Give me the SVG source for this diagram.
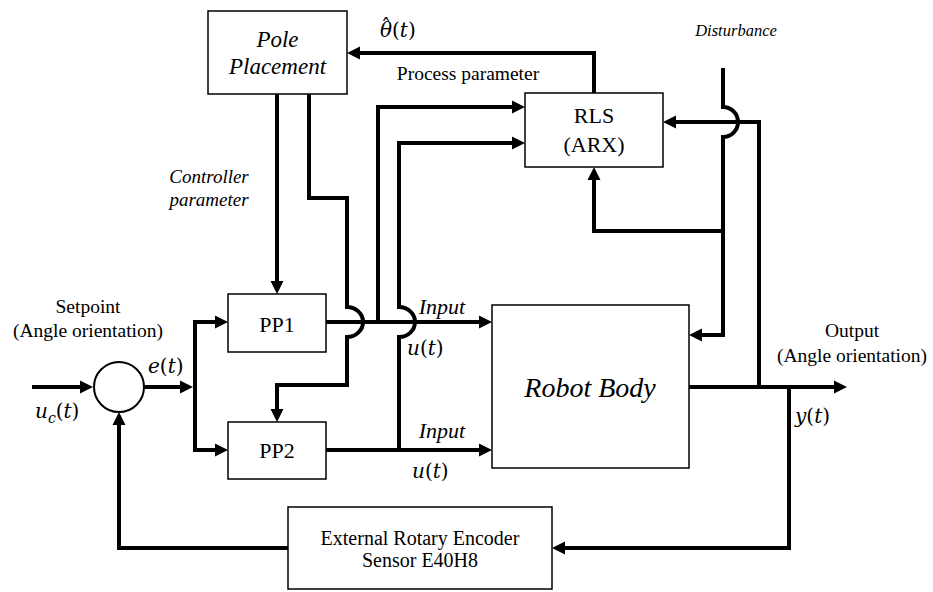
<svg xmlns="http://www.w3.org/2000/svg" width="933" height="592" viewBox="0 0 933 592">
<defs>
<style>
.box{fill:#fff;stroke:#000;stroke-width:1.5}
.w{fill:none;stroke:#000;stroke-width:4;marker-end:url(#ah)}
.t{font-family:"Liberation Serif","Times New Roman",serif;font-size:20px;fill:#000}
.i{font-style:italic}
.c{text-anchor:middle}
.m{font-family:"DejaVu Serif","Liberation Serif",serif;font-size:20px;fill:#000}
</style>
<marker id="ah" markerUnits="userSpaceOnUse" markerWidth="13" markerHeight="14" viewBox="0 0 13 14" refX="0" refY="7" orient="auto">
<path d="M0,0.5 L13,7 L0,13.5 z" fill="#000"/>
</marker>
</defs>
<rect width="933" height="592" fill="#fff"/>

<g id="connectors">
<path class="w" d="M32,387 H80"/>
<path class="w" d="M144,387 H180"/>
<path class="w" d="M195,387 V322 H215"/>
<path class="w" d="M195,387 V450 H215"/>
<path class="w" d="M277,94 V281"/>
<path class="w" d="M309,94 V198 H347 V307 A16,15 0 0 1 347,337 V385 H277 V409"/>
<path class="w" d="M378,322 V107 H512"/>
<path class="w" d="M399,450 V337 A16,15 0 0 0 399,307 V143 H512"/>
<path class="w" d="M326,322 H479"/>
<path class="w" d="M326,450 H479"/>
<path class="w" d="M594,93 V53 H360"/>
<path class="w" d="M723,68 V107 A15,15 0 0 1 723,137 V335 H702"/>
<path class="w" d="M723,231 H594 V180"/>
<path class="w" d="M689,387 H834"/>
<path class="w" d="M759,387 V122 H676"/>
<path class="w" d="M789,387 V548 H565"/>
<path class="w" d="M288,548 H119 V425"/>
</g>

<g id="pole-placement">
<rect class="box" x="208" y="11" width="139" height="83"/>
<text class="t i c" x="277.5" y="47" style="font-size:23px">Pole</text>
<text class="t i c" x="277.5" y="74" style="font-size:23px">Placement</text>
</g>

<g id="rls">
<rect class="box" x="525" y="93" width="138" height="74"/>
<text class="t c" x="594" y="123" style="font-size:22px">RLS</text>
<text class="t c" x="594" y="152" style="font-size:22px">(ARX)</text>
</g>

<g id="pp1">
<rect class="box" x="228" y="294" width="98" height="58"/>
<text class="t c" x="277" y="332" style="font-size:22px">PP1</text>
</g>

<g id="pp2">
<rect class="box" x="228" y="422" width="98" height="57"/>
<text class="t c" x="277" y="458" style="font-size:22px">PP2</text>
</g>

<g id="robot-body">
<rect class="box" x="492" y="305" width="197" height="163"/>
<text class="t i c" x="590" y="397" style="font-size:28px">Robot Body</text>
</g>

<g id="encoder">
<rect class="box" x="288" y="507" width="264" height="82"/>
<text class="t c" x="420" y="545">External Rotary Encoder</text>
<text class="t c" x="420" y="567">Sensor E40H8</text>
</g>

<g id="sum">
<circle cx="119" cy="387" r="25" fill="#fff" stroke="#000" stroke-width="2"/>
</g>

<g id="labels">
<text class="m" x="380" y="37"><tspan font-style="italic">θ</tspan><tspan dx="-11" dy="-3">ˆ</tspan><tspan dx="1" dy="3">(</tspan><tspan font-style="italic">t</tspan>)</text>
<text class="t c" x="468" y="80" style="font-size:19.5px">Process parameter</text>
<text class="t i c" x="736" y="36" style="font-size:16.5px">Disturbance</text>
<text class="t i c" x="209" y="183" style="font-size:19px">Controller</text>
<text class="t i c" x="209" y="206" style="font-size:19px">parameter</text>
<text class="t c" x="88" y="313" style="font-size:19.5px">Setpoint</text>
<text class="t c" x="88" y="337" style="font-size:19.5px">(Angle orientation)</text>
<text class="m" x="148" y="373"><tspan font-style="italic">e</tspan>(<tspan font-style="italic">t</tspan>)</text>
<text class="m" x="35" y="418"><tspan font-style="italic">u</tspan><tspan font-style="italic" style="font-size:14px" dy="5">c</tspan><tspan dy="-5">(</tspan><tspan font-style="italic">t</tspan>)</text>
<text class="t i c" x="442" y="314" style="font-size:22px">Input</text>
<text class="m" x="407" y="355"><tspan font-style="italic">u</tspan>(<tspan font-style="italic">t</tspan>)</text>
<text class="t i c" x="442" y="438" style="font-size:22px">Input</text>
<text class="m" x="412" y="478"><tspan font-style="italic">u</tspan>(<tspan font-style="italic">t</tspan>)</text>
<text class="t c" x="852" y="337" style="font-size:19.5px">Output</text>
<text class="t c" x="852" y="362" style="font-size:19.5px">(Angle orientation)</text>
<text class="m" x="795" y="423"><tspan font-style="italic">y</tspan>(<tspan font-style="italic">t</tspan>)</text>
</g>
</svg>
